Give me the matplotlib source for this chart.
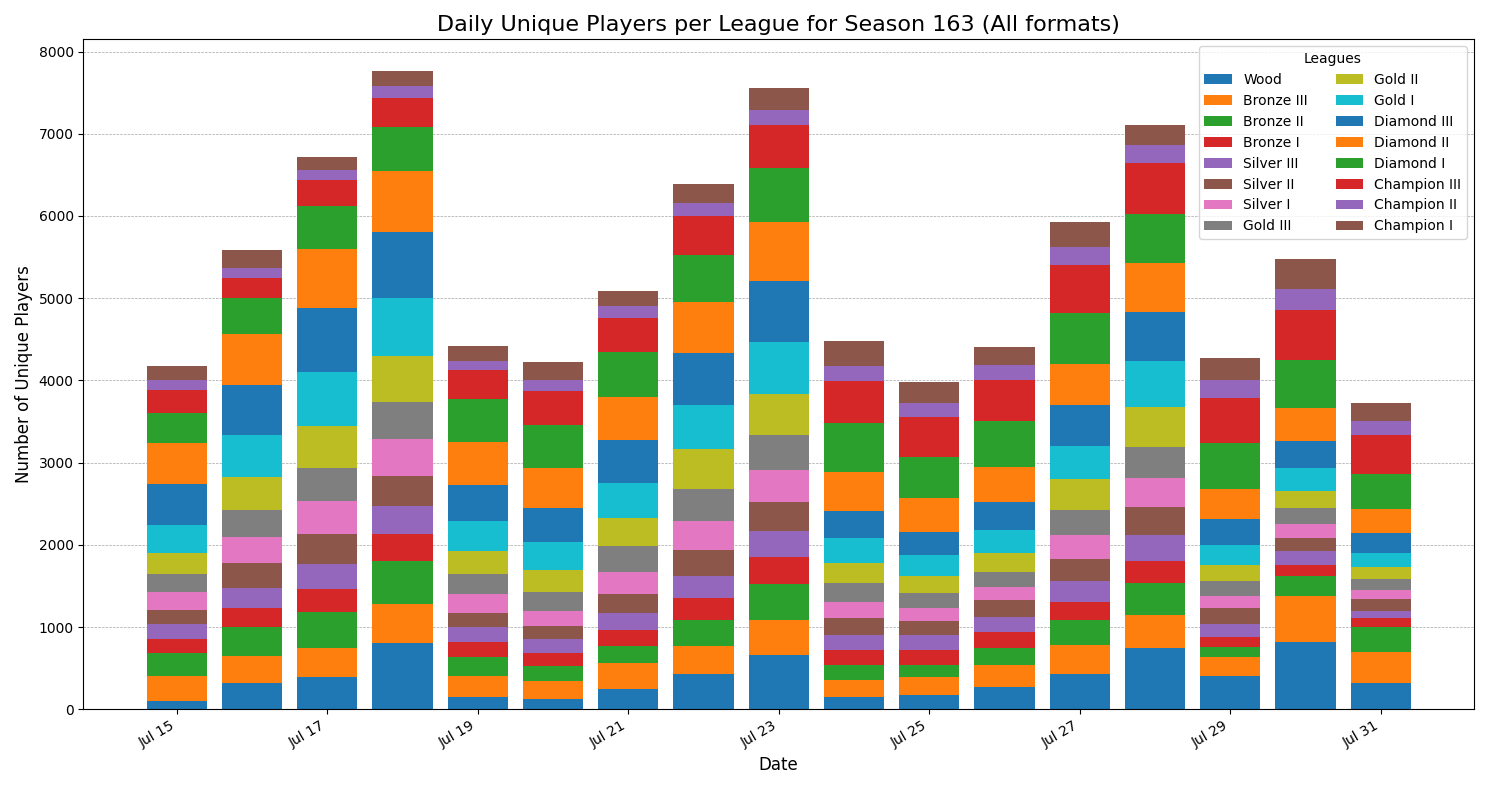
import numpy as np
import pandas as pd
import matplotlib
matplotlib.use("Agg")
import matplotlib.pyplot as plt
import matplotlib.dates as mdates

leagues = ["Wood", "Bronze III", "Bronze II", "Bronze I", "Silver III", "Silver II",
           "Silver I", "Gold III", "Gold II", "Gold I", "Diamond III", "Diamond II",
           "Diamond I", "Champion III", "Champion II", "Champion I"]

dates = pd.date_range("2024-07-15", "2024-07-31", freq="D")

# running totals (top of each league's segment), one row per day
tops_jul15 = [100, 400, 680, 850, 1040, 1210, 1420, 1650, 1900, 2240, 2740, 3240, 3600, 3880, 4000, 4170]
tops_jul16 = [320, 650, 1000, 1230, 1480, 1780, 2100, 2420, 2830, 3330, 3940, 4560, 5000, 5250, 5370, 5580]
tops_jul17 = [390, 750, 1180, 1460, 1770, 2130, 2530, 2940, 3450, 4100, 4880, 5600, 6120, 6440, 6560, 6720]
tops_jul18 = [800, 1280, 1800, 2130, 2470, 2840, 3290, 3740, 4300, 5000, 5800, 6550, 7080, 7430, 7580, 7760]
tops_jul19 = [150, 410, 630, 820, 1000, 1170, 1400, 1650, 1930, 2290, 2730, 3250, 3770, 4120, 4230, 4420]
tops_jul20 = [130, 340, 530, 680, 860, 1010, 1190, 1420, 1690, 2030, 2450, 2930, 3460, 3870, 4010, 4220]
tops_jul21 = [250, 560, 770, 960, 1170, 1400, 1670, 1980, 2330, 2750, 3270, 3800, 4350, 4760, 4910, 5090]
tops_jul22 = [430, 770, 1090, 1350, 1620, 1940, 2290, 2680, 3160, 3700, 4330, 4950, 5520, 6000, 6160, 6390]
tops_jul23 = [660, 1090, 1520, 1850, 2170, 2520, 2910, 3330, 3840, 4470, 5210, 5930, 6580, 7110, 7290, 7550]
tops_jul24 = [150, 350, 540, 720, 900, 1110, 1310, 1530, 1780, 2080, 2410, 2890, 3480, 3990, 4170, 4480]
tops_jul25 = [170, 390, 540, 720, 900, 1070, 1230, 1410, 1620, 1870, 2160, 2570, 3070, 3560, 3720, 3980]
tops_jul26 = [270, 540, 750, 940, 1120, 1330, 1490, 1670, 1900, 2180, 2520, 2950, 3500, 4010, 4190, 4410]
tops_jul27 = [430, 780, 1090, 1310, 1560, 1830, 2120, 2420, 2800, 3200, 3700, 4200, 4820, 5400, 5620, 5930]
tops_jul28 = [750, 1140, 1540, 1800, 2120, 2460, 2810, 3190, 3680, 4230, 4830, 5430, 6020, 6640, 6860, 7100]
tops_jul29 = [410, 640, 760, 880, 1040, 1230, 1380, 1560, 1760, 2000, 2310, 2680, 3240, 3790, 4010, 4270]
tops_jul30 = [820, 1380, 1620, 1760, 1920, 2080, 2250, 2450, 2650, 2930, 3260, 3660, 4250, 4860, 5110, 5480]
tops_jul31 = [320, 700, 1000, 1110, 1200, 1340, 1450, 1590, 1730, 1900, 2140, 2430, 2860, 3330, 3500, 3730]

tops = np.array([tops_jul15, tops_jul16, tops_jul17, tops_jul18, tops_jul19, tops_jul20,
                 tops_jul21, tops_jul22, tops_jul23, tops_jul24, tops_jul25, tops_jul26,
                 tops_jul27, tops_jul28, tops_jul29, tops_jul30, tops_jul31])
counts = np.diff(np.hstack([np.zeros((len(dates), 1)), tops]), axis=1)

colors = plt.rcParams["axes.prop_cycle"].by_key()["color"]

fig, ax = plt.subplots(figsize=(14.89, 7.89), dpi=100)
bottom = np.zeros(len(dates))
for i, name in enumerate(leagues):
    ax.bar(dates, counts[:, i], bottom=bottom, width=0.8, label=name,
           color=colors[i % len(colors)])
    bottom += counts[:, i]

ax.set_title("Daily Unique Players per League for Season 163 (All formats)", fontsize=16)
ax.set_xlabel("Date", fontsize=12)
ax.set_ylabel("Number of Unique Players", fontsize=12)
ax.xaxis.set_major_locator(mdates.DayLocator(interval=2))
ax.xaxis.set_major_formatter(mdates.DateFormatter("%b %d"))
plt.setp(ax.get_xticklabels(), rotation=30, ha="right")
ax.grid(axis="y", linestyle="--", linewidth=0.5, color="gray", alpha=0.7)
ax.set_axisbelow(True)
ax.legend(title="Leagues", ncol=2, loc="upper right")

plt.tight_layout()
plt.savefig("out.png")
plt.close()
